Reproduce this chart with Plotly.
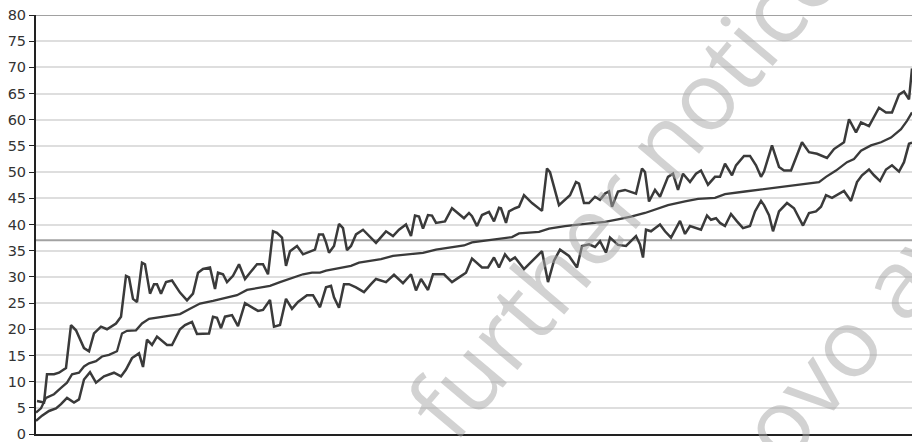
import plotly.graph_objects as go

# x positions (horizontal offset units along the chart) and values
upper_x = [1, 8, 11, 18, 23, 30, 35, 40, 48, 53, 58, 65, 71, 80, 85, 90, 93, 97, 101, 106, 109, 114, 118, 121, 125, 130, 136, 144,
           151, 157, 162, 167, 174, 179, 182, 187, 191, 197, 203, 209, 214, 221, 227, 232, 237, 241, 246, 250, 254, 261, 267, 274, 279, 283, 287,
           290, 293, 298, 303, 307, 311, 315, 320, 327, 333, 340, 350, 357, 363, 370, 375, 379, 383, 387, 392, 396, 400, 409, 416, 422, 428, 433,
           436, 441, 446, 453, 458, 463, 465, 470, 473, 479, 483, 488, 496, 506, 511, 514, 523, 534, 540, 543, 548, 553, 559, 564, 569, 573, 576,
           582, 589, 600, 606, 609, 613, 619, 624, 632, 637, 642, 647, 654, 660, 665, 672, 679, 684, 689, 696, 700, 708, 714, 720, 725,
           728, 736, 743, 748, 755, 766, 773, 781, 791, 798, 808, 813, 820, 825, 833, 843, 850, 856, 863, 868, 873, 876]
upper_y = [6.3, 6.0, 11.4, 11.4, 11.7, 12.6, 20.8, 19.8, 16.4, 15.8, 19.2, 20.5, 20.0, 21.1, 22.4, 30.2, 29.9, 25.8, 25.2, 32.7, 32.4, 26.8, 28.6, 28.6, 26.8, 29.0, 29.3, 27.0,
           25.5, 26.8, 30.8, 31.5, 31.8, 27.7, 30.8, 30.5, 29.0, 30.2, 32.4, 29.6, 30.8, 32.4, 32.4, 30.5, 38.7, 38.4, 37.5, 32.1, 34.9, 35.9, 34.3, 34.9, 35.2, 38.1, 38.1,
           36.6, 34.6, 35.9, 40.1, 39.3, 35.1, 35.9, 38.1, 39.0, 37.8, 36.5, 38.7, 37.8, 39.0, 40.0, 37.8, 41.7, 41.5, 39.2, 41.8, 41.7, 40.3, 40.6, 43.1, 42.2, 41.2, 42.2,
           41.6, 39.7, 41.8, 42.4, 40.6, 43.2, 43.1, 40.3, 42.5, 43.1, 43.4, 45.6, 44.1, 42.6, 50.7, 50.0, 43.7, 45.6, 48.1, 47.8, 44.1, 44.1, 45.3, 44.7, 45.9, 46.3, 43.4,
           46.3, 46.6, 45.9, 50.7, 50.0, 44.4, 46.6, 45.3, 49.1, 49.7, 46.6, 49.7, 48.1, 49.7, 50.3, 47.6, 49.1, 49.1, 51.6, 49.4, 51.3, 53.1, 53.1, 51.3, 49.1,
           50.1, 55.1, 51.0, 50.3, 50.3, 55.7, 53.8, 53.5, 52.7, 54.4, 55.7, 60.1, 57.6, 59.5, 58.8, 62.3, 61.4, 61.4, 64.8, 65.4, 63.9, 69.8]

middle_x = [0, 5, 10, 18, 25, 31, 36, 43, 48, 53, 60, 66, 73, 81, 86, 91, 100, 106, 113, 121, 131, 144, 154, 164, 177, 187, 201, 211, 224, 234,
            244, 257, 267, 276, 284, 290, 303, 315, 323, 337, 345, 357, 370, 387, 400, 417, 428, 436, 456, 476, 483, 503, 513, 529, 549, 569,
            582, 595, 609, 619, 632, 649, 662, 679, 689, 709, 728, 741, 758, 771, 783, 790, 800, 811, 818, 825, 835, 845, 855, 865, 871, 876]
middle_y = [4.1, 4.9, 6.9, 7.6, 8.8, 9.8, 11.4, 11.7, 12.9, 13.5, 13.9, 14.8, 15.1, 15.8, 19.2, 19.7, 19.8, 21.1, 22.0, 22.2, 22.5, 22.9, 23.9, 24.9, 25.4, 25.8, 26.5, 27.5, 28.0, 28.3,
            29.0, 29.9, 30.5, 30.8, 30.8, 31.2, 31.7, 32.1, 32.7, 33.1, 33.4, 34.0, 34.3, 34.6, 35.2, 35.7, 36.0, 36.6, 37.1, 37.6, 38.3, 38.6, 39.2, 39.7, 40.1, 40.5,
            41.0, 41.5, 42.2, 42.8, 43.7, 44.4, 44.9, 45.1, 45.8, 46.3, 46.8, 47.0, 47.5, 47.8, 48.1, 49.1, 50.3, 51.9, 52.5, 54.1, 55.1, 55.7, 56.6, 58.2, 59.8, 61.4]

lower_x = [0, 6, 13, 20, 25, 31, 38, 43, 48, 54, 60, 68, 78, 85, 90, 96, 103, 107, 111, 116, 121, 126, 131, 136, 141, 144,
           149, 156, 161, 167, 173, 177, 181, 185, 189, 196, 202, 209, 216, 222, 227, 234, 238, 244, 250, 256, 262, 271, 277, 284,
           290, 295, 298, 303, 308, 313, 320, 328, 335, 340, 350, 358, 367, 375, 380, 385, 392, 397, 408, 416, 423, 430,
           436, 441, 446, 452, 458, 463, 469, 474, 479, 488, 496, 506, 512, 518, 524, 533, 541, 546, 553, 559, 564, 570, 574,
           582, 590, 600, 604, 607, 610, 615, 619, 624, 629, 635, 644, 649, 654, 662, 665, 671, 675, 680, 684, 689, 695, 701, 707, 714, 719, 725,
           728, 733, 737, 743, 751, 758, 767, 773, 780, 785, 790, 796, 803, 808, 815, 821, 826, 833, 838, 844, 850, 856, 863, 868, 873, 876]
lower_y = [2.5, 3.5, 4.4, 4.9, 5.7, 6.9, 6.0, 6.6, 10.4, 11.8, 9.8, 11.0, 11.7, 11.0, 12.3, 14.5, 15.4, 12.8, 18.0, 17.0, 18.6, 17.8, 17.0, 17.0, 18.9, 20.0,
           20.8, 21.4, 19.1, 19.2, 19.2, 22.4, 22.2, 20.2, 22.4, 22.7, 20.6, 25.0, 24.2, 23.5, 23.7, 25.6, 20.5, 20.8, 25.8, 23.9, 25.2, 26.5, 26.5, 24.2,
           28.0, 28.3, 26.1, 24.1, 28.6, 28.6, 28.0, 27.1, 28.6, 29.6, 29.0, 30.4, 28.8, 30.5, 27.4, 29.6, 27.5, 30.5, 30.5, 29.0, 29.9, 30.8,
           33.5, 32.7, 31.8, 31.8, 33.7, 31.8, 34.3, 33.1, 33.7, 31.5, 33.1, 34.9, 29.0, 33.1, 35.2, 34.0, 31.8, 35.9, 36.2, 35.7, 36.8, 34.6, 37.5,
           36.1, 35.9, 37.8, 36.2, 33.7, 39.0, 38.7, 39.3, 40.0, 38.7, 37.5, 40.7, 38.2, 39.7, 39.2, 39.0, 41.7, 40.9, 41.2, 40.3, 39.7, 42.0, 40.6, 39.3, 39.7, 42.5, 44.5,
           43.7, 41.8, 38.7, 42.5, 44.1, 43.1, 39.8, 42.2, 42.5, 43.4, 45.6, 45.1, 45.8, 46.4, 44.5, 48.1, 49.4, 50.5, 49.4, 48.3, 50.5, 51.3, 50.1, 51.9, 55.4, 55.6]

reference_level = 37
y_ticks = list(range(0, 85, 5))
watermark_texts = ["further notice", "novo aviso"]

LINE = "#3a3a3a"
WM = dict(family="Open Sans", size=95, color="rgba(165,165,165,0.5)")

fig = go.Figure()
for xs, ys, w in [(upper_x, upper_y, 2.5), (middle_x, middle_y, 2.3), (lower_x, lower_y, 2.5)]:
    fig.add_trace(go.Scatter(x=xs, y=ys, mode="lines",
                             line=dict(color=LINE, width=w), hoverinfo="skip", showlegend=False))

fig.add_shape(type="line", xref="paper", x0=0, x1=1, yref="y", y0=reference_level, y1=reference_level,
              line=dict(color="#a2a2a2", width=2), layer="below")
fig.add_shape(type="line", xref="paper", x0=0, x1=1, yref="y", y0=80, y1=80,
              line=dict(color="#444444", width=1))

fig.add_annotation(text=watermark_texts[0], xref="paper", yref="paper",
                   x=(622 - 36) / 876, y=(438.5 - 190) / 423.5, showarrow=False, textangle=-50,
                   font=WM, xanchor="center", yanchor="middle")
fig.add_annotation(text=watermark_texts[1], xref="paper", yref="paper",
                   x=(870 - 36) / 876, y=(438.5 - 313) / 423.5, showarrow=False, textangle=-50,
                   font=WM, xanchor="center", yanchor="middle")

fig.update_layout(
    width=912, height=442,
    margin=dict(l=36, r=0, t=15, b=4),
    paper_bgcolor="white", plot_bgcolor="white",
    xaxis=dict(range=[0, 876], showgrid=False, zeroline=False, showticklabels=False,
               showline=True, linecolor="#222222", linewidth=2, ticks=""),
    yaxis=dict(range=[0, 80], tickvals=y_ticks, ticktext=[str(v) for v in y_ticks],
               showgrid=True, gridcolor="#dedede", gridwidth=1.5, zeroline=False,
               showline=True, linecolor="#222222", linewidth=2,
               ticks="outside", ticklen=5, tickcolor="#222222", tickwidth=1,
               ticklabeloverflow="allow",
               tickfont=dict(family="DejaVu Sans", size=14.5, color="#333333")),
)

# remove the page's default body margin so the figure fills the window exactly
fig.write_html("out.html", config={"displayModeBar": False}, post_script=(
    "document.body.style.margin='0';"
    "document.documentElement.style.overflow='hidden';"
    "document.body.style.overflow='hidden';"))
